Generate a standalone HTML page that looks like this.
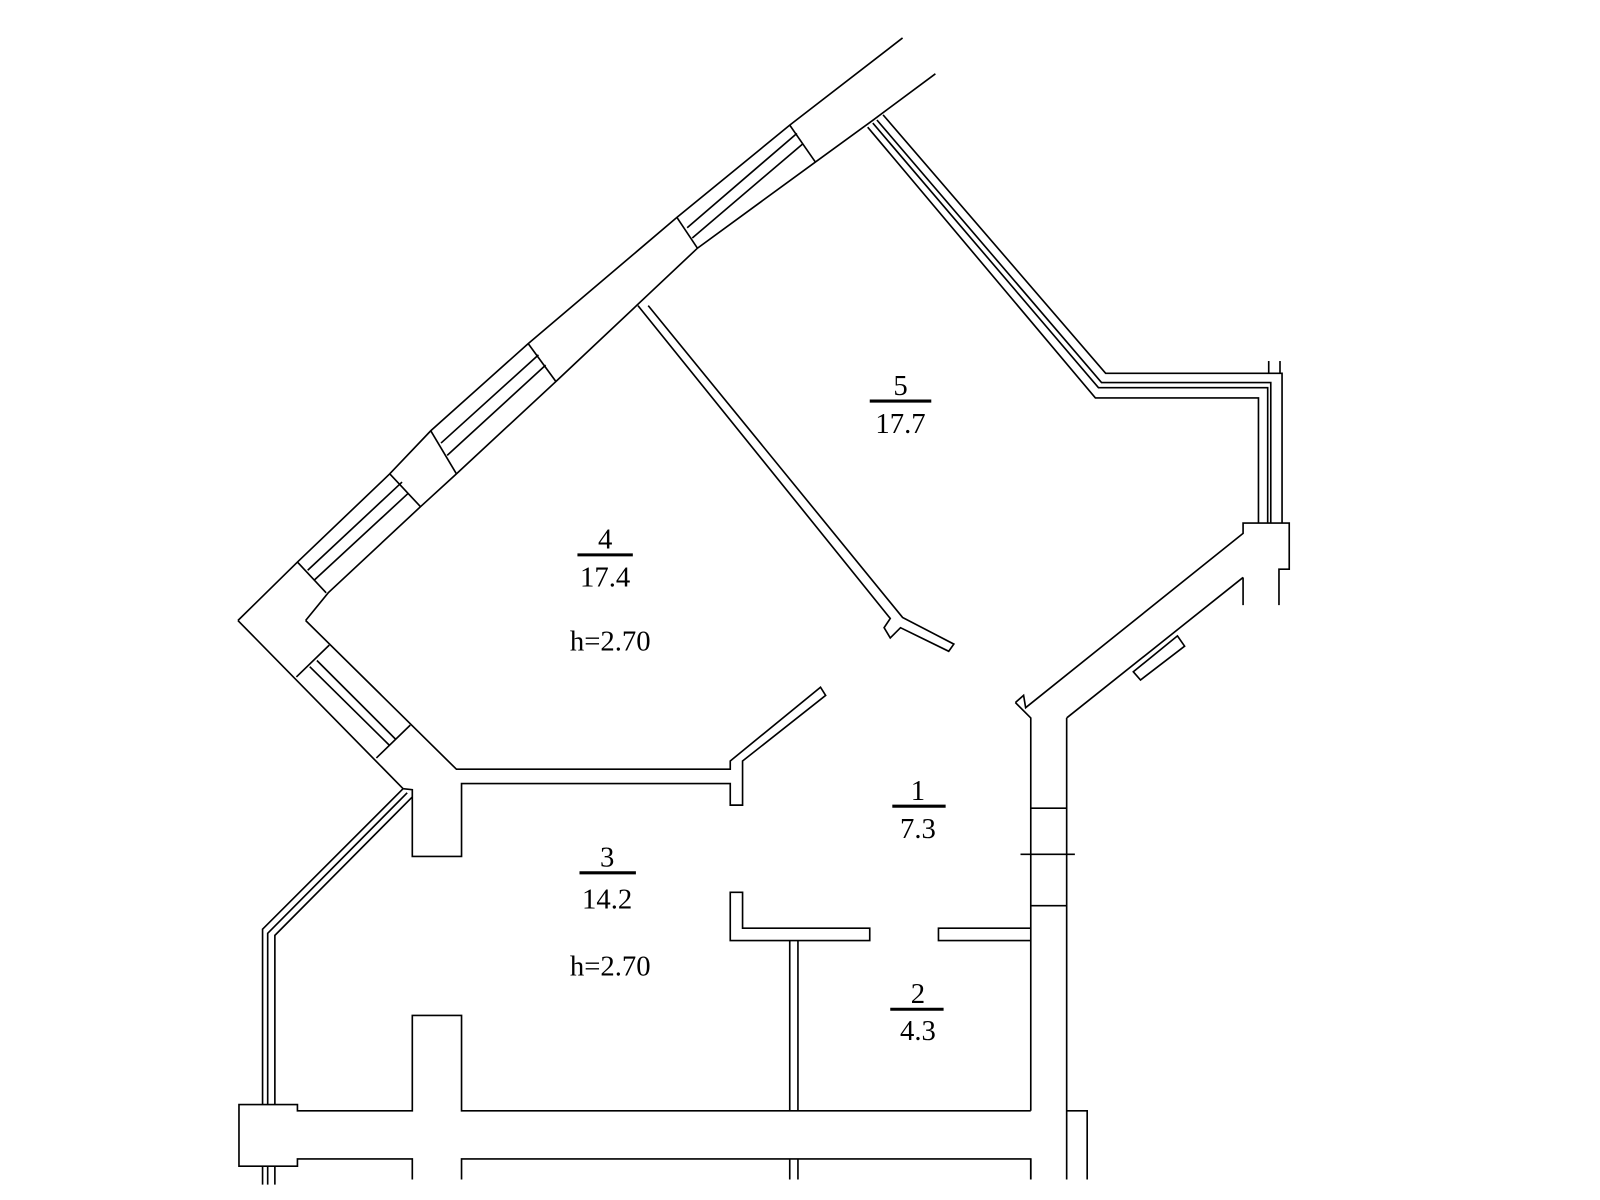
<!DOCTYPE html>
<html><head><meta charset="utf-8"><style>html,body{margin:0;padding:0;background:#fff}svg{display:block}</style></head>
<body>
<svg width="1600" height="1200" viewBox="0 0 1560 1170" xmlns="http://www.w3.org/2000/svg">
<g fill="none" stroke="#000" stroke-width="1.6" stroke-linejoin="miter">
<!-- outer curved wall -->
<polyline points="232,605 290,548 380,462 420,420 515,335 660,212 770,122 880,37"/>
<polyline points="298,605 320,578 410,494 445,462 542,372 680,242 795,158 850,118 912,72"/>
<!-- window crosslines -->
<line x1="660" y1="212" x2="680" y2="242"/><line x1="770" y1="122" x2="795" y2="158"/>
<line x1="515" y1="335" x2="542" y2="372"/><line x1="420" y1="420" x2="445" y2="462"/>
<line x1="380" y1="462" x2="410" y2="494"/><line x1="290" y1="548" x2="318" y2="578"/>
<!-- window glass lines -->
<line x1="670" y1="222" x2="777" y2="130"/><line x1="675" y1="232" x2="783" y2="140"/>
<line x1="430" y1="432" x2="525" y2="346"/><line x1="436" y1="444" x2="532" y2="356"/>
<line x1="300" y1="556" x2="392" y2="470"/><line x1="306" y1="566" x2="398" y2="481"/>
<!-- lower left wall -->
<polyline points="232,605 393,769"/>
<polyline points="298,605 445,750 712,750 712,742 800,670 805,678 724,742 724,785 712,785 712,764 450,764 450,835 402,835 402,770 393,769"/>
<line x1="289" y1="660" x2="321" y2="629"/><line x1="367" y1="739" x2="400" y2="707"/>
<line x1="302" y1="650" x2="380" y2="727"/><line x1="309" y1="644" x2="386" y2="721"/>
<!-- lower-left diagonal window wall -->
<polyline points="393,769 256,906 256,1077"/>
<polyline points="397,773 261,910 261,1077"/>
<polyline points="402,777 268,912 268,1077"/>
<line x1="256" y1="1137" x2="256" y2="1155"/><line x1="261" y1="1137" x2="261" y2="1155"/><line x1="268" y1="1137" x2="268" y2="1155"/>
<!-- bottom wall -->
<polyline points="402,1150 402,1130 290,1130 290,1137 233,1137 233,1077 290,1077 290,1083 402,1083 402,990 450,990 450,1083 1005,1083"/>
<polyline points="450,1150 450,1130 1005,1130 1005,1150"/>
<line x1="770" y1="1130" x2="770" y2="1150"/><line x1="778" y1="1130" x2="778" y2="1150"/>
<polyline points="770,1083 770,917"/><polyline points="778,1083 778,917"/>
<!-- right vertical wall -->
<polyline points="990,685 998,678 1000,690 1212,520 1212,510 1257,510 1257,555 1247,555 1247,590"/>
<line x1="1212" y1="563" x2="1212" y2="590"/>
<polyline points="990,685 1005,700 1005,1083"/>
<polyline points="1040,700 1212,563"/>
<polyline points="1040,700 1040,1150"/>
<line x1="1005" y1="1130" x2="1005" y2="1150"/>
<line x1="1005" y1="788" x2="1040" y2="788"/><line x1="1005" y1="883" x2="1040" y2="883"/>
<line x1="995" y1="833" x2="1048" y2="833"/>
<polyline points="1040,1083 1060,1083 1060,1150"/>
<polygon points="1105,655 1148,620 1155,630 1112,663"/>
<!-- center partitions -->
<polygon points="712,870 724,870 724,905 848,905 848,917 712,917"/>
<polyline points="1005,905 915,905 915,917 1005,917"/>
<!-- partition 4/5 -->
<polyline points="622,298 868,603 862,612 868,622 878,612 925,635 930,628 880,602 632,298"/>
<!-- room 5 outer wall -->
<polyline points="846,124 1068,388 1227,388 1227,510"/>
<polyline points="851,120 1071,378 1236,378 1236,510"/>
<polyline points="855,117 1074,373 1239,373 1239,510"/>
<polyline points="861,112 1078,364 1250,364 1250,510"/>
<line x1="1237" y1="352" x2="1237" y2="364"/><line x1="1248" y1="352" x2="1248" y2="364"/>
</g>
<g font-family="'Liberation Serif',serif" font-size="28" text-anchor="middle" fill="#000">
<text x="878" y="385">5</text><line x1="848" y1="391" x2="908" y2="391" stroke="#000" stroke-width="3"/><text x="878" y="422">17.7</text>
<text x="590" y="535">4</text><line x1="563" y1="541" x2="617" y2="541" stroke="#000" stroke-width="3"/><text x="590" y="572">17.4</text>
<text x="595" y="634">h=2.70</text>
<text x="895" y="780">1</text><line x1="870" y1="786" x2="922" y2="786" stroke="#000" stroke-width="3"/><text x="895" y="817">7.3</text>
<text x="592" y="845">3</text><line x1="565" y1="851" x2="620" y2="851" stroke="#000" stroke-width="3"/><text x="592" y="886">14.2</text>
<text x="595" y="951">h=2.70</text>
<text x="895" y="978">2</text><line x1="868" y1="984" x2="920" y2="984" stroke="#000" stroke-width="3"/><text x="895" y="1014">4.3</text>
</g>
</svg>
</body></html>
